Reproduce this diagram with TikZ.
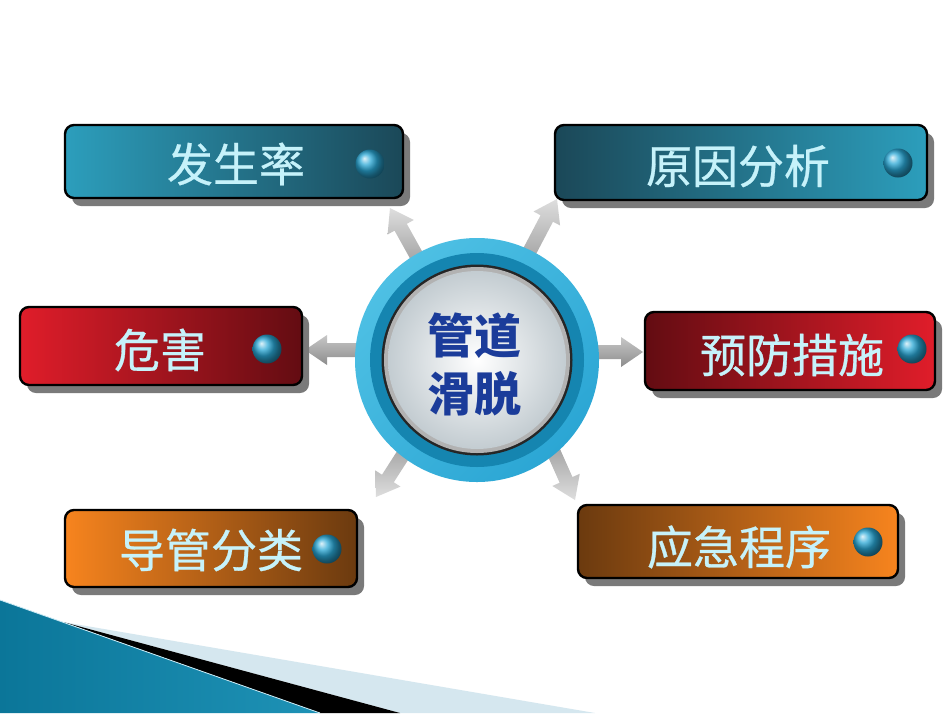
\documentclass[tikz,border=0pt]{standalone}
\usepackage{fontspec}
\newfontfamily\cjk{Noto Sans CJK SC}
\newfontfamily\cjkm[FakeBold=0.6]{Noto Sans CJK SC}
\usetikzlibrary{shadows,calc}
\definecolor{tealL}{HTML}{2C9EBC}
\definecolor{tealD}{HTML}{1B4858}
\definecolor{redL}{HTML}{E01D2A}
\definecolor{redD}{HTML}{630C12}
\definecolor{orL}{HTML}{F7841E}
\definecolor{orD}{HTML}{6B3A0F}
\definecolor{txtc}{HTML}{C6F2FA}
\definecolor{ballc}{HTML}{2AA8D6}
\definecolor{ringA}{HTML}{4EC0E4}
\definecolor{ringB}{HTML}{2BA6D4}
\definecolor{ringC}{HTML}{1585B0}
\definecolor{faceO}{HTML}{C3CCD1}
\definecolor{navy}{HTML}{1B3C9A}
\definecolor{seaD}{HTML}{0B7699}
\definecolor{seaL}{HTML}{56BCDD}
\definecolor{seaM}{HTML}{1E92B6}
\definecolor{paleb}{HTML}{D5E7EF}
\newcommand\blockarrow[3]{%
  \coordinate (h) at ($(#2)!22pt!(#1)$);
  \path[#3] ($(#1)!7pt!90:(#2)$) -- ($(h)!7pt!90:(#2)$) -- ($(h)!15pt!90:(#2)$) -- (#2)
    -- ($(h)!15pt!-90:(#2)$) -- ($(h)!7pt!-90:(#2)$) -- ($(#1)!7pt!-90:(#2)$) -- cycle;}
\tikzset{
  boxnode/.style={rectangle, rounded corners=9pt, draw=black, line width=2.4pt, inner sep=0pt,
    drop shadow={shadow xshift=7pt, shadow yshift=-8pt, fill=black!52, opacity=1}},
  boxtext/.style={font=\cjkm\fontsize{46}{46}\selectfont, text=txtc, inner sep=0pt},
  ballnode/.style={circle, minimum size=29pt, inner sep=0pt, shading=ball, ball color=ballc},
  arrowup/.style={top color=black!13, bottom color=black!45},
  arrowdown/.style={top color=black!45, bottom color=black!13},
  arrowside/.style={top color=black!22, bottom color=black!45},
}
\begin{document}
\begin{tikzpicture}[x=1pt,y=-1pt]
\useasboundingbox[fill=white] (0,0) rectangle (950,713);

% bottom-left decoration
\fill[paleb] (63,622) -- (595,713) -- (400,713) -- cycle;
\fill[black] (63,622) -- (400,713) -- (320,713) -- cycle;
\shade[left color=seaD, middle color=seaL, right color=seaM] (0,600) -- (320,713) -- (0,713) -- cycle;
\draw[white!70!seaL, line width=0.8pt] (0,600) -- (320,713);

% arrows
\coordinate (s1) at (430,280); \coordinate (e1) at (390,208);
\coordinate (s2) at (514,281); \coordinate (e2) at (557,199);
\coordinate (s3) at (390,350); \coordinate (e3) at (305,350);
\coordinate (s4) at (570,352); \coordinate (e4) at (643,352);
\coordinate (s5) at (419,430); \coordinate (e5) at (376,497);
\coordinate (s6) at (543,428); \coordinate (e6) at (575,500);
\blockarrow{s1}{e1}{arrowup}
\blockarrow{s2}{e2}{arrowup}
\blockarrow{s3}{e3}{arrowside}
\blockarrow{s4}{e4}{arrowside}
\blockarrow{s5}{e5}{arrowdown}
\blockarrow{s6}{e6}{arrowdown}

% central disc
\node[circle, minimum size=244pt, inner sep=0pt, left color=ringA, right color=ringB, shading angle=45] (c) at (477,360) {};
\node[circle, minimum size=214pt, inner sep=0pt, fill=ringC] (c2) at (c.center) {};
\node[circle, minimum size=191pt, inner sep=0pt, fill=black!85] (c3) at (c.center) {};
\node[circle, minimum size=186pt, inner sep=0pt, fill=black!30] (c4) at (c.center) {};
\node[circle, minimum size=178pt, inner sep=0pt, inner color=white, outer color=faceO] (c5) at (c.center) {};
\node[font=\cjk\bfseries\fontsize{47}{58}\selectfont, text=navy, align=center, inner sep=0pt] (ct) at (474,364) {管道\\滑脱};

% boxes
\node[boxnode, minimum width=338pt, minimum height=73pt, left color=tealL, right color=tealD] (b1) at (234,161.5) {};
\node[boxnode, minimum width=372pt, minimum height=75pt, left color=tealD, right color=tealL] (b2) at (741,162.5) {};
\node[boxnode, minimum width=282pt, minimum height=78pt, left color=redL, right color=redD] (b3) at (161,346) {};
\node[boxnode, minimum width=290pt, minimum height=78pt, left color=redD, right color=redL] (b4) at (790,351) {};
\node[boxnode, minimum width=292pt, minimum height=77pt, left color=orL, right color=orD] (b5) at (211,548.5) {};
\node[boxnode, minimum width=320pt, minimum height=73pt, left color=orD, right color=orL] (b6) at (738,541.5) {};

\node[boxtext] (t1) at (236,164) {发生率};
\node[boxtext] (t2) at (738,166) {原因分析};
\node[boxtext] (t3) at (160,350) {危害};
\node[boxtext] (t4) at (792,355) {预防措施};
\node[boxtext] (t5) at (211,550) {导管分类};
\node[boxtext] (t6) at (739,547) {应急程序};

\node[ballnode] (d1) at (370,164) {};
\node[ballnode] (d2) at (898,163) {};
\node[ballnode] (d3) at (267,349) {};
\node[ballnode] (d4) at (912,349) {};
\node[ballnode] (d5) at (327,549) {};
\node[ballnode] (d6) at (868,542) {};
\end{tikzpicture}
\end{document}
